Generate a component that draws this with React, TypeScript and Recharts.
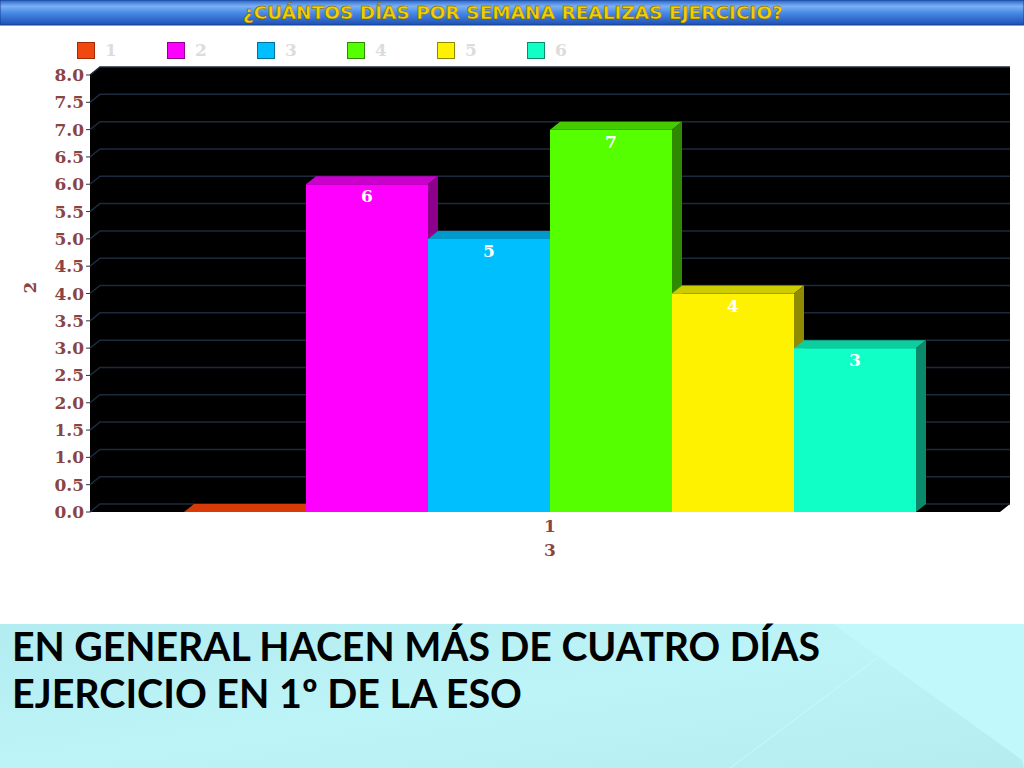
import React from "react";
import {
  BarChart, Bar, XAxis, YAxis, CartesianGrid, Legend, ReferenceArea, LabelList,
} from "recharts";

// survey: days per week of exercise, 1º ESO
const categories = ["1"];
const seriesNames = ["1", "2", "3", "4", "5", "6"];
const seriesValues = [0, 6, 5, 7, 4, 3];
const yTicks = [0, 0.5, 1, 1.5, 2, 2.5, 3, 3.5, 4, 4.5, 5, 5.5, 6, 6.5, 7, 7.5, 8];

const front = ["#f0480e", "#ff00ff", "#00bfff", "#55ff00", "#fff200", "#10ffc6"];
const topFace = ["#d83a08", "#cc00cc", "#0099cc", "#44cc00", "#cccc00", "#0dcc9e"];
const sideFace = ["#a02a04", "#8c008c", "#006f99", "#2e8a00", "#8f8a00", "#0a8a6a"];

const data = categories.map((c) => {
  const row: Record<string, string | number> = { cat: c };
  seriesNames.forEach((n, i) => { row["s" + n] = seriesValues[i]; });
  return row;
});

const DX = 10;
const DY = 8;
const tickFont = { fontFamily: "DejaVu Serif", fontWeight: 700, fontSize: 17, fill: "#8a4444" };

function make3D(i: number) {
  return (props: any) => {
    const { x, y, width, height } = props;
    if (x == null || y == null) return <g />;
    const h = Math.max(0, height || 0);
    return (
      <g>
        {h > 0 && <rect x={x} y={y} width={width} height={h} fill={front[i]} />}
        <polygon
          points={`${x},${y} ${x + DX},${y - DY} ${x + width + DX},${y - DY} ${x + width},${y}`}
          fill={topFace[i]}
        />
        {h > 0 && (
          <polygon
            points={`${x + width},${y} ${x + width + DX},${y - DY} ${x + width + DX},${y + h - DY} ${x + width},${y + h}`}
            fill={sideFace[i]}
          />
        )}
      </g>
    );
  };
}

function BackWall(props: any) {
  const { x, y, width, height } = props;
  const r = x + width;
  const b = y + height;
  const pts = `${x},${b} ${x},${y} ${x + DX},${y - DY} ${r},${y - DY} ${r},${b - DY} ${r - DX},${b}`;
  return <polygon points={pts} fill="#000" />;
}

function GridLine(props: any) {
  const { x1, y1, x2, key } = props;
  return (
    <path
      key={key}
      d={`M${x1},${y1} L${x1 + DX},${y1 - DY} L${x2},${y1 - DY}`}
      stroke="#1c2a3e"
      strokeWidth={1.5}
      fill="none"
    />
  );
}

function LegendBox({ payload }: any) {
  return (
    <div style={{ display: "flex" }}>
      {(payload || []).map((p: any, i: number) => (
        <div key={i} style={{ width: 90, display: "flex", alignItems: "center" }}>
          <span style={{ width: 16, height: 15, background: front[i], border: "1px solid " + sideFace[i], display: "inline-block" }} />
          <span style={{ marginLeft: 10, fontFamily: "DejaVu Serif", fontWeight: 700, fontSize: 17, color: "#dcdcdc" }}>{p.value}</span>
        </div>
      ))}
    </div>
  );
}

export default function App() {
  return (
    <div style={{ position: "absolute", left: 0, top: 0, width: 1024, height: 768, overflow: "hidden", background: "#fff" }}>
      <svg width={1024} height={26} style={{ position: "absolute", left: 0, top: 0 }}>
        <defs>
          <linearGradient id="ban" x1="0" y1="0" x2="0" y2="1">
            <stop offset="0" stopColor="#2b62c8" />
            <stop offset="0.25" stopColor="#7ab2f4" />
            <stop offset="0.5" stopColor="#4a8ce8" />
            <stop offset="1" stopColor="#1d4fb4" />
          </linearGradient>
        </defs>
        <rect x={0} y={0} width={1024} height={25} fill="url(#ban)" stroke="#16408f" />
        <text
          x={243} y={19} textLength={540} lengthAdjust="spacingAndGlyphs"
          fontFamily="DejaVu Sans Condensed" fontWeight={700} fontSize={18}
          fill="#f2d000" stroke="#6b5200" strokeWidth={0.4}
        >
          ¿CUÁNTOS DÍAS POR SEMANA REALIZAS EJERCICIO?
        </text>
      </svg>

      <div style={{ position: "absolute", left: 0, top: 0 }}>
        <BarChart
          width={1024}
          height={570}
          data={data}
          margin={{ top: 75, right: 14, bottom: 8, left: 0 }}
          barGap={0}
          barCategoryGap={0}
        >
          <ReferenceArea y1={0} y2={8} shape={BackWall} ifOverflow="visible" zIndex={-200} />
          <CartesianGrid vertical={false} horizontal={GridLine} />
          <XAxis
            dataKey="cat"
            axisLine={false}
            tickLine={false}
            tick={tickFont}
            height={50}
            label={{ value: "3", position: "insideBottom", offset: 6, style: tickFont }}
          />
          <YAxis
            domain={[0, 8]}
            ticks={yTicks}
            interval={0}
            width={90}
            axisLine={false}
            tickLine={{ stroke: "#333" }}
            tickSize={4}
            tick={tickFont}
            tickFormatter={(v: number) => v.toFixed(1)}
            label={{ value: "2", angle: -90, position: "insideLeft", offset: 30, style: tickFont }}
          />
          <Legend
            layout="horizontal"
            verticalAlign="middle"
            align="center"
            wrapperStyle={{ top: 40, left: 77, width: 600 }}
            content={LegendBox}
          />
          {seriesNames.map((n, i) => (
            <Bar
              key={n}
              dataKey={"s" + n}
              name={n}
              fill={front[i]}
              barSize={122}
              shape={make3D(i)}
              isAnimationActive={false}
            >
              <LabelList
                dataKey={"s" + n}
                position="insideTop"
                offset={6}
                formatter={(v: any) => (v ? String(v) : "")}
                style={{ fontFamily: "DejaVu Serif", fontWeight: 700, fontSize: 17, fill: "#ffffff" }}
              />
            </Bar>
          ))}
        </BarChart>
      </div>

      <svg width={1024} height={168} style={{ position: "absolute", left: 0, top: 600 }}>
        <defs>
          <linearGradient id="pan" x1="0" y1="0" x2="1" y2="1">
            <stop offset="0" stopColor="#b2ecf1" />
            <stop offset="0.5" stopColor="#bdf4f7" />
            <stop offset="1" stopColor="#b4ecf0" />
          </linearGradient>
        </defs>
        <rect x={0} y={24} width={1024} height={144} fill="url(#pan)" />
        <polygon points="833,24 1024,24 1024,168 1022,160" fill="#c0f8fb" />
        <line x1={877} y1={58} x2={730} y2={168} stroke="#c8fafd" strokeWidth={1} />
        <text
          x={12} y={61} textLength={808} lengthAdjust="spacingAndGlyphs"
          fontFamily="Lato" fontWeight={700} fontSize={40} fill="#000"
        >
          EN GENERAL HACEN MÁS DE CUATRO DÍAS
        </text>
        <text
          x={12} y={108} textLength={510} lengthAdjust="spacingAndGlyphs"
          fontFamily="Lato" fontWeight={700} fontSize={40} fill="#000"
        >
          EJERCICIO EN 1º DE LA ESO
        </text>
      </svg>
    </div>
  );
}
